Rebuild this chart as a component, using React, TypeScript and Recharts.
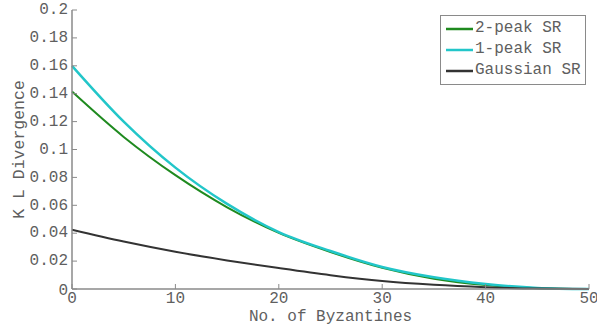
import { LineChart, Line, XAxis, YAxis } from 'recharts';

// number of byzantines (x)
const byzantines = [0, 5, 10, 15, 20, 25, 30, 35, 40, 45, 50];
// K L divergence per series
const twoPeakSR = [0.1415, 0.109, 0.0816, 0.0586, 0.0402, 0.0265, 0.0152, 0.0074, 0.0028, 0.0006, 0];
const onePeakSR = [0.16, 0.12, 0.087, 0.061, 0.0408, 0.0272, 0.0158, 0.0084, 0.0036, 0.0008, 0];
const gaussianSR = [0.0425, 0.034, 0.0267, 0.0205, 0.015, 0.0099, 0.0057, 0.003, 0.0013, 0.0003, 0];

const xTicks = [0, 10, 20, 30, 40, 50];
const yTicks = [0, 0.02, 0.04, 0.06, 0.08, 0.1, 0.12, 0.14, 0.16, 0.18, 0.2];

const seriesInfo = [
  { key: 'twoPeak', label: '2-peak SR', color: '#1f8a1f', width: 2 },
  { key: 'onePeak', label: '1-peak SR', color: '#22c6c9', width: 2.5 },
  { key: 'gaussian', label: 'Gaussian SR', color: '#333333', width: 2 },
];

const data = byzantines.map((x, i) => ({
  x,
  twoPeak: twoPeakSR[i],
  onePeak: onePeakSR[i],
  gaussian: gaussianSR[i],
}));

const FONT = '"Liberation Mono", "DejaVu Sans Mono", monospace';
const AXIS = '#8a8a8a';
const TEXT = '#5f5f5f';
const TICK_LEN = 5;

const fmtY = (v: number) => (v === 0 ? '0' : String(Number(v.toFixed(2))));

function BottomTick(props: any) {
  const { x, y, payload } = props;
  return (
    <g>
      <line x1={x} y1={y} x2={x} y2={y - TICK_LEN} stroke={AXIS} />
      <text x={x} y={y + 14} textAnchor="middle" fontFamily={FONT} fontSize={16} fill={TEXT}>
        {payload.value}
      </text>
    </g>
  );
}

function LeftTick(props: any) {
  const { x, y, payload } = props;
  return (
    <g>
      <line x1={x} y1={y} x2={x + TICK_LEN} y2={y} stroke={AXIS} />
      <text
        x={x - 4}
        y={payload.value === 0 ? y + 2 : y}
        textAnchor="end"
        dominantBaseline="middle"
        fontFamily={FONT}
        fontSize={16}
        fill={TEXT}
      >
        {fmtY(payload.value)}
      </text>
    </g>
  );
}

function TopTick(props: any) {
  const { x, y } = props;
  return <line x1={x} y1={y} x2={x} y2={y + TICK_LEN} stroke={AXIS} />;
}

function RightTick(props: any) {
  const { x, y } = props;
  return <line x1={x} y1={y} x2={x - TICK_LEN} y2={y} stroke={AXIS} />;
}

function LegendBox() {
  return (
    <div
      style={{
        position: 'absolute',
        left: 440,
        top: 15,
        border: `1px solid ${AXIS}`,
        background: '#fff',
        padding: '2px 4px 3px 5px',
        fontFamily: FONT,
        fontSize: 16,
        color: TEXT,
        lineHeight: '21px',
      }}
    >
      {seriesInfo.map((s) => (
        <div key={s.key} style={{ display: 'flex', alignItems: 'center', whiteSpace: 'nowrap' }}>
          <svg width={27} height={6} style={{ marginRight: 2 }}>
            <line x1={0} y1={3} x2={27} y2={3} stroke={s.color} strokeWidth={2.5} />
          </svg>
          {s.label}
        </div>
      ))}
    </div>
  );
}

export default function App() {
  return (
    <div style={{ position: 'absolute', left: 0, top: 0, width: 597, height: 325, background: '#fff' }}>
      <LineChart width={597} height={325} data={data} margin={{ top: 10, right: 8, bottom: 0, left: 0 }}>
        <XAxis
          dataKey="x"
          type="number"
          domain={[0, 50]}
          ticks={xTicks}
          height={36}
          stroke={AXIS}
          strokeWidth={1.5}
          tickLine={false}
          tickSize={0}
          tickMargin={0}
          tick={<BottomTick />}
          interval={0}
          label={{
            content: ({ viewBox }: any) => (
              <text
                x={viewBox.x + viewBox.width / 2}
                y={viewBox.y + 32}
                textAnchor="middle"
                fontFamily={FONT}
                fontSize={16}
                fill={TEXT}
              >
                No. of Byzantines
              </text>
            ),
          }}
        />
        <XAxis
          xAxisId="top"
          orientation="top"
          dataKey="x"
          type="number"
          domain={[0, 50]}
          ticks={xTicks}
          height={0}
          stroke={AXIS}
          tickLine={false}
          tickSize={0}
          tickMargin={0}
          tick={<TopTick />}
          interval={0}
        />
        <YAxis
          type="number"
          domain={[0, 0.2]}
          ticks={yTicks}
          width={72}
          stroke={AXIS}
          strokeWidth={1.5}
          tickLine={false}
          tickSize={0}
          tickMargin={0}
          tick={<LeftTick />}
          interval={0}
          label={{
            content: ({ viewBox }: any) => {
              const cx = 20;
              const cy = viewBox.y + viewBox.height / 2;
              return (
                <text
                  x={cx}
                  y={cy}
                  transform={`rotate(-90 ${cx} ${cy})`}
                  textAnchor="middle"
                  dominantBaseline="middle"
                  fontFamily={FONT}
                  fontSize={16.5}
                  fill={TEXT}
                >
                  K L Divergence
                </text>
              );
            },
          }}
        />
        <YAxis
          yAxisId="right"
          orientation="right"
          type="number"
          domain={[0, 0.2]}
          ticks={yTicks}
          width={0}
          stroke={AXIS}
          tickLine={false}
          tickSize={0}
          tickMargin={0}
          tick={<RightTick />}
          interval={0}
        />
        {seriesInfo.map((s) => (
          <Line
            key={s.key}
            type="monotone"
            dataKey={s.key}
            name={s.label}
            stroke={s.color}
            strokeWidth={s.width}
            dot={false}
            isAnimationActive={false}
          />
        ))}
      </LineChart>
      <LegendBox />
    </div>
  );
}
